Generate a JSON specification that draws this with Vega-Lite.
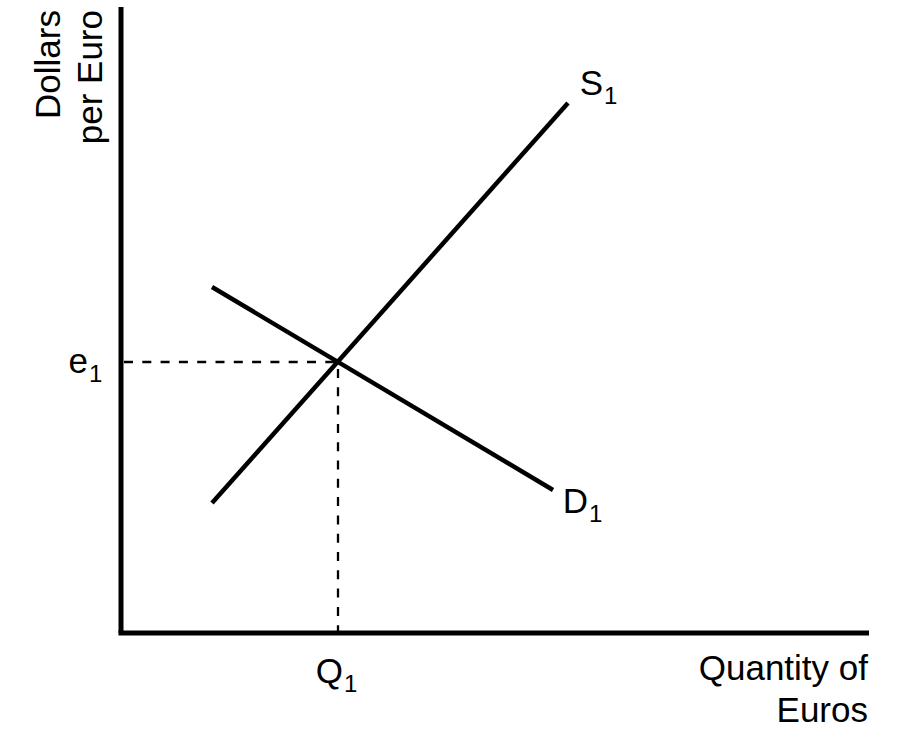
{
  "$schema": "https://vega.github.io/schema/vega-lite/v6.json",
  "autosize": {"type": "fit", "contains": "padding"},
  "width": 905,
  "height": 748,
  "padding": 0,
  "background": "white",
  "config": {"view": {"stroke": null}},
  "datasets": {
    "axes": [
      {"x": -2.5, "y": 0, "x2": 748, "y2": 0},
      {"x": 0, "y": 0, "x2": 0, "y2": 626}
    ],
    "curves": [
      {"curve": "S1", "q": 91, "p": 130},
      {"curve": "S1", "q": 447, "p": 530},
      {"curve": "D1", "q": 91, "p": 346},
      {"curve": "D1", "q": 432, "p": 143}
    ],
    "guides": [
      {"x": 3, "y": 271, "x2": 217, "y2": 271},
      {"x": 217, "y": 264, "x2": 217, "y2": 0}
    ],
    "labels": [
      {"main": "S", "sub": "1", "q": 482, "p": 538},
      {"main": "D", "sub": "1", "q": 467, "p": 120},
      {"main": "e", "sub": "1", "q": -33, "p": 260},
      {"main": "Q", "sub": "1", "q": 222, "p": -50}
    ],
    "xtitle": [{"text": "Quantity of\nEuros", "q": 747, "p": -47}],
    "ytitle": [{"text": "Dollars\nper Euro", "q": -61, "p": 623}]
  },
  "layer": [
    {
      "data": {"name": "axes"},
      "mark": {"type": "rule", "color": "black", "strokeWidth": 5},
      "encoding": {
        "x": {"field": "x", "type": "quantitative", "scale": {"domain": [-121, 784], "nice": false, "zero": false}, "axis": null},
        "y": {"field": "y", "type": "quantitative", "scale": {"domain": [-115, 633], "nice": false, "zero": false}, "axis": null},
        "x2": {"field": "x2"},
        "y2": {"field": "y2"}
      }
    },
    {
      "data": {"name": "guides"},
      "mark": {"type": "rule", "color": "black", "strokeWidth": 2.3, "strokeDash": [9, 9.3]},
      "encoding": {
        "x": {"field": "x", "type": "quantitative"},
        "y": {"field": "y", "type": "quantitative"},
        "x2": {"field": "x2"},
        "y2": {"field": "y2"}
      }
    },
    {
      "data": {"name": "curves"},
      "mark": {"type": "line", "color": "black", "strokeWidth": 4.5},
      "encoding": {
        "x": {"field": "q", "type": "quantitative"},
        "y": {"field": "p", "type": "quantitative"},
        "detail": {"field": "curve"}
      }
    },
    {
      "data": {"name": "labels"},
      "mark": {"type": "text", "align": "right", "baseline": "alphabetic", "font": "Liberation Sans", "fontSize": 35, "color": "black"},
      "encoding": {
        "x": {"field": "q", "type": "quantitative"},
        "y": {"field": "p", "type": "quantitative"},
        "text": {"field": "main"}
      }
    },
    {
      "data": {"name": "labels"},
      "mark": {"type": "text", "align": "left", "baseline": "alphabetic", "font": "Liberation Sans", "fontSize": 24, "dx": 1, "dy": 9, "color": "black"},
      "encoding": {
        "x": {"field": "q", "type": "quantitative"},
        "y": {"field": "p", "type": "quantitative"},
        "text": {"field": "sub"}
      }
    },
    {
      "data": {"name": "xtitle"},
      "mark": {"type": "text", "align": "right", "baseline": "alphabetic", "font": "Liberation Sans", "fontSize": 35, "lineBreak": "\n", "lineHeight": 42, "color": "black"},
      "encoding": {
        "x": {"field": "q", "type": "quantitative"},
        "y": {"field": "p", "type": "quantitative"},
        "text": {"field": "text"}
      }
    },
    {
      "data": {"name": "ytitle"},
      "mark": {"type": "text", "align": "right", "baseline": "alphabetic", "angle": 270, "font": "Liberation Sans", "fontSize": 35, "lineBreak": "\n", "lineHeight": 42, "color": "black"},
      "encoding": {
        "x": {"field": "q", "type": "quantitative"},
        "y": {"field": "p", "type": "quantitative"},
        "text": {"field": "text"}
      }
    }
  ]
}
